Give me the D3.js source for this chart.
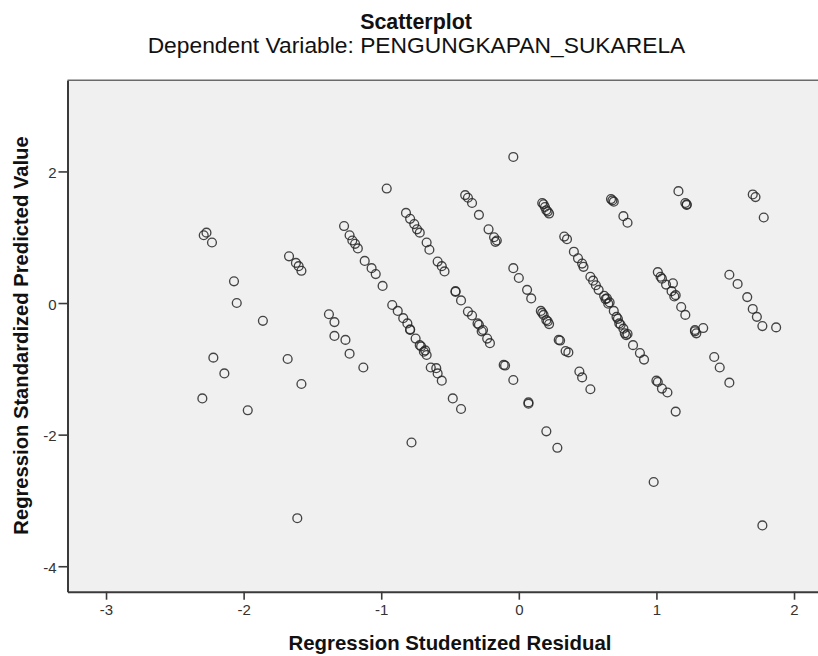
<!DOCTYPE html>
<html>
<head>
<meta charset="utf-8">
<script src="https://cdn.jsdelivr.net/npm/d3@7"></script>
<style>
  html, body { margin: 0; padding: 0; background: #ffffff; }
  svg { display: block; font-family: "Liberation Sans", Arial, sans-serif; }
</style>
</head>
<body>
<svg id="chart" width="818" height="656"></svg>
<script>
// ---- data ----
const chartTitle = "Scatterplot";
const chartSubtitle = "Dependent Variable: PENGUNGKAPAN_SUKARELA";
const xLabel = "Regression Studentized Residual";
const yLabel = "Regression Standardized Predicted Value";
const xTicks = [-3, -2, -1, 0, 1, 2];
const yTicks = [-4, -2, 0, 2];
const xDomain = [-3.28, 2.276];
const yDomain = [-4.387, 3.385];

const residuals = [
  -2.29,-2.27,-2.23,-2.07,-2.05,-1.86,-2.22,-2.14,-2.30,-1.97,
  -1.67,-1.62,-1.60,-1.58,-1.68,-1.58,-1.61,
  -1.27,-1.23,-1.21,-1.19,-1.17,-1.12,-1.07,-1.04,-0.99,-0.92,-0.88,-0.84,-0.81,-0.79,-0.79,-0.75,-0.72,-0.71,-0.69,-0.68,-0.67,-0.64,-0.60,-0.59,-0.56,-0.48,-0.42,
  -1.38,-1.34,-1.34,-1.26,-1.23,-1.13,
  -0.96,
  -0.82,-0.79,-0.76,-0.74,-0.72,-0.67,-0.65,-0.59,-0.56,-0.54,-0.46,-0.46,-0.42,-0.37,-0.34,-0.29,-0.30,-0.27,-0.26,-0.23,-0.21,-0.11,-0.10,-0.04,0.07,0.07,0.20,0.28,
  -0.39,-0.37,-0.34,-0.29,-0.22,-0.18,-0.17,-0.16,-0.04,0.00,0.06,0.09,0.16,0.17,0.18,0.20,0.21,0.22,0.30,0.29,0.34,0.36,0.44,0.46,0.52,
  0.17,0.18,0.19,0.20,0.21,0.22,0.33,0.35,0.40,0.43,0.46,0.47,0.52,0.54,0.56,0.58,0.62,0.63,0.64,0.65,0.66,0.69,0.71,0.72,0.73,0.74,0.76,0.77,0.78,0.79,0.83,0.88,0.91,1.00,1.01,1.04,1.08,1.14,
  0.67,0.68,0.69,0.76,0.79,1.01,1.03,1.04,1.07,1.12,1.11,1.13,1.14,1.18,1.21,1.28,1.29,1.28,1.34,1.42,1.46,1.53,
  1.16,1.21,1.22,1.22,1.53,1.59,1.66,1.70,1.73,1.77,1.87,1.77,1.70,1.72,1.78,
  -0.04,-0.78,0.98
];
const predicted = [
  1.03,1.07,0.92,0.33,0.00,-0.27,-0.83,-1.07,-1.45,-1.63,
  0.71,0.61,0.56,0.49,-0.85,-1.23,-3.27,
  1.17,1.03,0.95,0.90,0.83,0.64,0.53,0.44,0.26,-0.03,-0.12,-0.23,-0.31,-0.41,-0.40,-0.54,-0.64,-0.66,-0.74,-0.72,-0.79,-0.98,-0.99,-1.07,-1.18,-1.45,-1.61,
  -0.17,-0.29,-0.50,-0.56,-0.77,-0.98,
  1.74,
  1.37,1.28,1.20,1.12,1.07,0.92,0.81,0.63,0.56,0.48,0.17,0.18,0.04,-0.13,-0.19,-0.33,-0.31,-0.43,-0.41,-0.54,-0.61,-0.94,-0.95,-1.17,-1.51,-1.53,-1.95,-2.20,
  1.64,1.60,1.52,1.34,1.12,1.00,0.93,0.95,0.53,0.38,0.20,0.07,-0.12,-0.15,-0.18,-0.26,-0.28,-0.32,-0.57,-0.56,-0.73,-0.75,-1.04,-1.13,-1.31,
  1.52,1.50,1.46,1.41,1.39,1.36,1.01,0.97,0.78,0.68,0.60,0.55,0.40,0.34,0.27,0.20,0.11,0.06,0.07,-0.01,0.01,-0.12,-0.21,-0.24,-0.31,-0.33,-0.39,-0.46,-0.49,-0.47,-0.64,-0.76,-0.86,-1.18,-1.20,-1.30,-1.36,-1.65,
  1.58,1.56,1.54,1.32,1.22,0.47,0.40,0.37,0.28,0.30,0.18,0.10,0.12,-0.06,-0.18,-0.41,-0.46,-0.43,-0.38,-0.82,-0.98,-1.21,
  1.70,1.52,1.49,1.50,0.43,0.29,0.09,-0.09,-0.21,-0.35,-0.37,-3.38,1.65,1.61,1.30,
  2.22,-2.12,-2.72
];

// ---- layout ----
const W = 818, H = 656;
const plot = { left: 67.5, right: 832, top: 80.3, bottom: 591.7 };
const svg = d3.select("#chart");

svg.append("rect").attr("x", 0).attr("y", 0).attr("width", W).attr("height", H).attr("fill", "#ffffff");

const x = d3.scaleLinear().domain(xDomain).range([plot.left, plot.right]);
const y = d3.scaleLinear().domain(yDomain).range([plot.bottom, plot.top]);

// plot background
svg.append("rect")
  .attr("x", plot.left).attr("y", plot.top)
  .attr("width", plot.right - plot.left).attr("height", plot.bottom - plot.top)
  .attr("fill", "#f0f0f0");

// points
const points = residuals.map((r, i) => ({ r, p: predicted[i] }));
svg.append("g")
  .selectAll("circle")
  .data(points)
  .join("circle")
  .attr("cx", d => x(d.r))
  .attr("cy", d => y(d.p))
  .attr("r", 4.4)
  .attr("fill", "none")
  .attr("stroke", "#262626")
  .attr("stroke-opacity", 0.85)
  .attr("stroke-width", 1.35);

// frame top
svg.append("line").attr("x1", plot.left).attr("x2", plot.right).attr("y1", plot.top).attr("y2", plot.top)
  .attr("stroke", "#6a6a6a").attr("stroke-width", 1.5);

const fmt = d => String(d);

const xAxis = svg.append("g")
  .attr("transform", `translate(0,${plot.bottom})`)
  .call(d3.axisBottom(x).tickValues(xTicks).tickFormat(fmt).tickSize(8).tickSizeOuter(0).tickPadding(5));
const yAxis = svg.append("g")
  .attr("transform", `translate(${plot.left},0)`)
  .call(d3.axisLeft(y).tickValues(yTicks).tickFormat(fmt).tickSize(9).tickSizeOuter(0).tickPadding(2));

[xAxis, yAxis].forEach(g => {
  g.select(".domain").attr("stroke", "#3a3a3a").attr("stroke-width", 2);
  g.selectAll(".tick line").attr("stroke", "#3a3a3a").attr("stroke-width", 1.6);
  g.selectAll(".tick text")
    .attr("fill", "#333333")
    .style("font-size", "15px")
    .style("font-family", "'Liberation Sans', Arial, sans-serif");
});
yAxis.selectAll(".tick text").attr("dy", "0.42em");

// titles
svg.append("text")
  .attr("x", 416).attr("y", 28.5)
  .attr("text-anchor", "middle")
  .style("font-size", "21.4px").style("font-weight", "bold")
  .attr("fill", "#111")
  .text(chartTitle);

svg.append("text")
  .attr("x", 416.5).attr("y", 53.3)
  .attr("text-anchor", "middle")
  .style("font-size", "22.8px")
  .attr("fill", "#111")
  .text(chartSubtitle);

svg.append("text")
  .attr("x", 450).attr("y", 650)
  .attr("text-anchor", "middle")
  .style("font-size", "20.4px").style("font-weight", "bold")
  .attr("fill", "#111")
  .text(xLabel);

svg.append("text")
  .attr("transform", `translate(28.3,335.5) rotate(-90)`)
  .attr("text-anchor", "middle")
  .style("font-size", "20.2px").style("font-weight", "bold")
  .attr("fill", "#111")
  .text(yLabel);
</script>
</body>
</html>
